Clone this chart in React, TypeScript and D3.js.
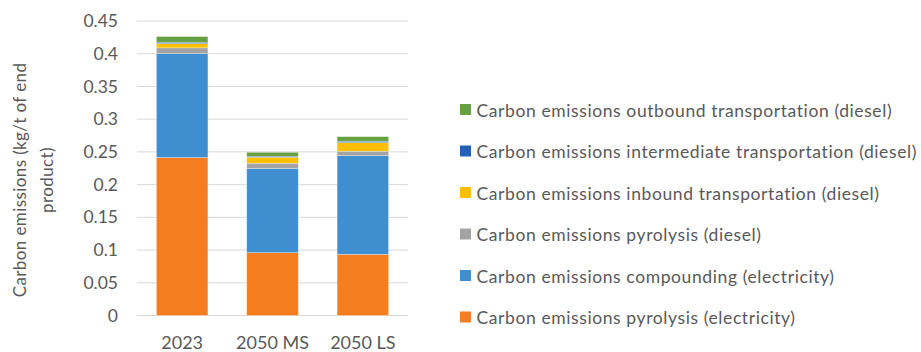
import React from "react";
import * as d3 from "d3";

const categories = ["2023", "2050 MS", "2050 LS"];
const pyrolysisElectricity = [0.2413, 0.096, 0.0936];
const compoundingElectricity = [0.159, 0.1285, 0.1507];
const pyrolysisDiesel = [0.0087, 0.0082, 0.0068];
const inboundDiesel = [0.0066, 0.0092, 0.0132];
const intermediateDiesel = [0.002, 0.0015, 0.002];
const outboundDiesel = [0.0086, 0.006, 0.007];

const yTicks = [0, 0.05, 0.1, 0.15, 0.2, 0.25, 0.3, 0.35, 0.4, 0.45];

const seriesNames = [
  "Carbon emissions pyrolysis (electricity)",
  "Carbon emissions compounding (electricity)",
  "Carbon emissions pyrolysis (diesel)",
  "Carbon emissions inbound transportation (diesel)",
  "Carbon emissions intermediate transportation (diesel)",
  "Carbon emissions outbound transportation (diesel)",
];
const seriesValues = [
  pyrolysisElectricity,
  compoundingElectricity,
  pyrolysisDiesel,
  inboundDiesel,
  intermediateDiesel,
  outboundDiesel,
];
const seriesColors = ["#F47D20", "#3E8ED0", "#A3A3A3", "#FEBF00", "#2360BB", "#65A143"];

const W = 921;
const H = 352;
const FONT = "Lato, 'Open Sans', sans-serif";
const TEXT = "#595959";

export default function App() {
  const rows = categories.map((c, i) => {
    const r: Record<string, number | string> = { cat: c };
    seriesNames.forEach((s, k) => (r[s] = seriesValues[k][i]));
    return r;
  });
  const stacked = d3.stack<any>().keys(seriesNames)(rows);

  const x = d3.scaleBand().domain(categories).range([137, 408]).paddingInner(0.43).paddingOuter(0.215);
  const y = d3.scaleLinear().domain([0, 0.45]).range([315.5, 21]);

  // legend lists the top series first
  const legendOrder = seriesNames.map((_, i) => i).reverse();

  return (
    <svg width={W} height={H} style={{ position: "absolute", left: 0, top: 0 }} fontFamily={FONT}>
      <rect width={W} height={H} fill="#fff" />
      {yTicks.map((t) => (
        <g key={t}>
          <line x1={137} x2={408} y1={y(t)} y2={y(t)} stroke="#D9D9D9" strokeWidth={1} />
          <text x={118} y={y(t)} dy="0.35em" textAnchor="end" fontSize={17.5} fill={TEXT}>
            {String(t)}
          </text>
        </g>
      ))}
      {stacked.map((layer, k) => (
        <g key={layer.key} fill={seriesColors[k]}>
          {layer.map((d, i) => (
            <rect
              key={i}
              x={x(categories[i])}
              width={x.bandwidth()}
              y={y(d[1])}
              height={y(d[0]) - y(d[1])}
              stroke="#ffffff"
              strokeOpacity={0.5}
              strokeWidth={0.6}
            />
          ))}
        </g>
      ))}
      {categories.map((c) => (
        <text key={c} x={(x(c) as number) + x.bandwidth() / 2} y={349} textAnchor="middle" fontSize={18} fill={TEXT}>
          {c}
        </text>
      ))}
      <g transform="translate(0,180) rotate(-90)">
        <text x={0} y={26} textAnchor="middle" fontSize={17} letterSpacing={0.4} fill={TEXT}>
          Carbon emissions (kg/t of end
        </text>
        <text x={0} y={53} textAnchor="middle" fontSize={17} letterSpacing={0.4} fill={TEXT}>
          product)
        </text>
      </g>
      {legendOrder.map((k, j) => {
        const by = 116.5 + j * 41.5;
        return (
          <g key={k}>
            <rect x={460} y={by - 12.5} width={11} height={11} fill={seriesColors[k]} />
            <text x={476.5} y={by} fontSize={17.5} letterSpacing={0.6} fill={TEXT}>
              {seriesNames[k]}
            </text>
          </g>
        );
      })}
    </svg>
  );
}
